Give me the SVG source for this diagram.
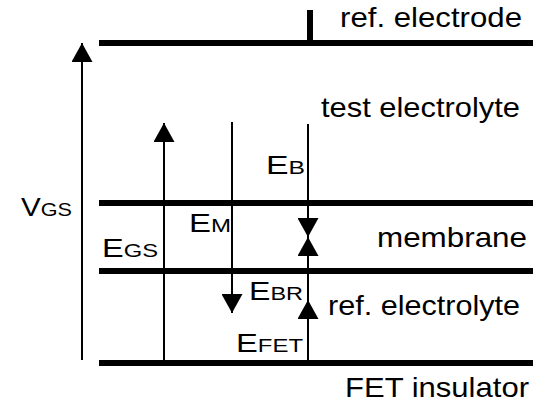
<svg xmlns="http://www.w3.org/2000/svg" width="533" height="409" viewBox="0 0 533 409">
<style>
.lbl{font-family:"Liberation Sans",Arial,sans-serif;font-size:28px;fill:#000}
.sub{font-size:19px}
.big{font-size:26px}
.layer{stroke:#000;stroke-width:6;fill:none}
.arr{stroke:#000;stroke-width:2;fill:none}
</style>
<defs>
<marker id="ah" viewBox="0 0 19 21" refX="19" refY="10.5" markerWidth="19" markerHeight="21" markerUnits="userSpaceOnUse" orient="auto">
<path d="M0,0 L19,10.5 L0,21 Z" fill="#000"/>
</marker>
</defs>
<rect width="533" height="409" fill="#fff"/>
<g id="layers">
<g id="ref-electrode">
<line class="layer" x1="99" y1="43" x2="533" y2="43"/>
<line x1="310" y1="10" x2="310" y2="43" stroke="#000" stroke-width="6"/>
<text class="lbl" x="340" y="27" textLength="182" lengthAdjust="spacingAndGlyphs">ref. electrode</text>
</g>
<g id="test-electrolyte">
<text class="lbl" x="321" y="117" textLength="199" lengthAdjust="spacingAndGlyphs">test electrolyte</text>
</g>
<g id="membrane">
<line class="layer" x1="99" y1="203" x2="533" y2="203"/>
<line class="layer" x1="99" y1="271" x2="533" y2="271"/>
<text class="lbl" x="377" y="247" textLength="150" lengthAdjust="spacingAndGlyphs">membrane</text>
</g>
<g id="ref-electrolyte">
<text class="lbl" x="328" y="315" textLength="192" lengthAdjust="spacingAndGlyphs">ref. electrolyte</text>
</g>
<g id="fet-insulator">
<line class="layer" x1="99" y1="363" x2="533" y2="363"/>
<text class="lbl" x="345" y="397" textLength="184" lengthAdjust="spacingAndGlyphs">FET insulator</text>
</g>
</g>
<g id="connectors">
<line class="arr" x1="82" y1="360" x2="82" y2="43" marker-end="url(#ah)"/>
<line class="arr" x1="164" y1="363" x2="164" y2="123" marker-end="url(#ah)"/>
<line class="arr" x1="232" y1="122" x2="232" y2="313" marker-end="url(#ah)"/>
<line class="arr" x1="308" y1="124" x2="308" y2="237" marker-end="url(#ah)"/>
<line class="arr" x1="308" y1="300" x2="308" y2="237" marker-end="url(#ah)"/>
<line class="arr" x1="308" y1="363" x2="308" y2="300" marker-end="url(#ah)"/>
</g>
<g id="potential-labels">
<text class="lbl" x="21" y="216" textLength="51" lengthAdjust="spacingAndGlyphs"><tspan class="big">V</tspan><tspan class="sub">GS</tspan></text>
<text class="lbl" x="102" y="257" textLength="56" lengthAdjust="spacingAndGlyphs"><tspan class="big">E</tspan><tspan class="sub">GS</tspan></text>
<text class="lbl" x="189" y="232" textLength="42" lengthAdjust="spacingAndGlyphs"><tspan class="big">E</tspan><tspan class="sub">M</tspan></text>
<text class="lbl" x="266" y="174" textLength="39" lengthAdjust="spacingAndGlyphs"><tspan class="big">E</tspan><tspan class="sub">B</tspan></text>
<text class="lbl" x="249" y="300" textLength="54" lengthAdjust="spacingAndGlyphs"><tspan class="big">E</tspan><tspan class="sub">BR</tspan></text>
<text class="lbl" x="236" y="352" textLength="67" lengthAdjust="spacingAndGlyphs"><tspan class="big">E</tspan><tspan class="sub">FET</tspan></text>
</g>
</svg>
